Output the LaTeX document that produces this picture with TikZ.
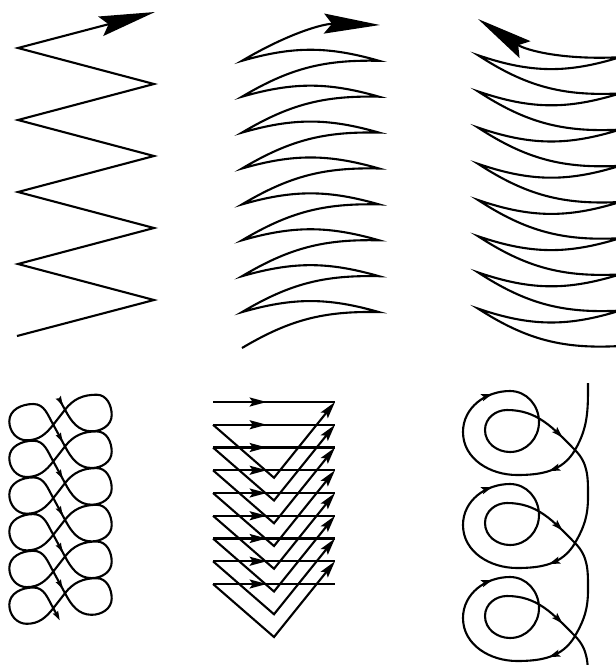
\documentclass[tikz,border=0pt]{standalone}
\usetikzlibrary{arrows.meta,decorations.markings}

\begin{document}
\begin{tikzpicture}[x=1pt,y=-1pt,
  line/.style={line width=2.1pt},
  bigtip/.style={-{Stealth[length=56pt,width=20pt,inset=8pt]}},
  smalltip/.style={-{Stealth[length=11pt,width=7pt,inset=2pt]}},
  slimtip/.style={-{Stealth[length=9pt,width=5.5pt,inset=1pt]}},
  midtip/.style={postaction={decorate,decoration={markings,
    mark=at position #1 with {\arrow{Stealth[length=17pt,width=9pt,inset=3pt]}}}}},
  veetip/.style={-{Stealth[length=17pt,width=9pt,inset=3pt]}}]
  \useasboundingbox (0,0) rectangle (616,665);
  \clip (0,0) rectangle (616,665);

  % zigzag
  \draw[line,bigtip] (17,336) \foreach \k in {1,...,4}{ -- (154,{336-72*\k+36}) -- (18,{336-72*\k}) } -- (155,12);

  % arcs, bent up
  \draw[line,bigtip] (242,348) \foreach \k in {1,...,8}{ to[bend left=16] (379,{348-35.9*\k}) to[bend right=16] (242,{348-35.9*\k}) } to[bend left=16] (380,25);

  % arcs, bent down
  \draw[line,bigtip] (620,346) \foreach \k in {8,...,1}{ to[bend left=18] (478,{19+36.2*\k}) to[bend right=18] (620,{21+36.2*\k}) } to[bend left=18] (478,19);

  % figure eights
  \draw[line,slimtip] (59.2,399.2)
    \foreach \k in {0,...,5}{
      -- (65,{409.7+36.7*\k})
      to[out=-62,in=180] (91.7,{431.3+36.7*\k})
      to[out=0,in=270] (111.7,{415+36.7*\k})
      to[out=90,in=0] (96.7,{394.7+36.7*\k})
      to[out=180,in=52] (65,{409.7+36.7*\k})
      -- (53.3,{424.7+36.7*\k})
      to[out=232,in=0] (26.7,{440.3+36.7*\k})
      to[out=180,in=270] (9.3,{421.3+36.7*\k})
      to[out=90,in=180] (33.3,{404+36.7*\k})
      to[out=0,in=120] (53.3,{424.7+36.7*\k})
    } -- (59.8,620.4);
  \foreach \k in {0,...,5}
    \draw[line,slimtip] (61.5,{403.2+36.7*\k}) -- (62.7,{405.4+36.7*\k});

  % triangles
  \foreach \k in {0,...,8}
    \draw[line,midtip=0.44] (213,{402+22.75*\k}) -- (335,{402+22.75*\k});
  \foreach \k in {1,...,8}
    \draw[line,veetip] (213,{402+22.75*\k}) -- (274,{455+22.75*\k}) -- (335,{402+22.75*(\k-1)});

  % loops
  \draw[line] (588,383) to[out=270,in=60] (575,450)
    \foreach \k in {0,1,2}{
      to[out=240,in=0] (517,{475+93*\k})
      to[out=180,in=270] (463,{432+93*\k})
      to[out=90,in=180] (510,{391+93*\k})
      to[out=0,in=90] (539,{422+93*\k})
      to[out=270,in=0] (510,{452+93*\k})
      to[out=180,in=270] (485,{430+93*\k})
      to[out=90,in=180] (507,{410+93*\k})
      to[out=0,in=135] (575,{450+93*\k})
      to[out=-45,in=90] (588,{497+93*\k})
      to[out=270,in=60] (575,{543+93*\k})
    };
  \foreach \k in {0,1,2}{
    \draw[line,smalltip] (552,{469.9+93*\k}) -- (549,{471+93*\k});
    \draw[line,smalltip] (489.6,{394.9+93*\k}) -- (492.4,{393.9+93*\k});
    \draw[line,smalltip] (560.4,{435.3+93*\k}) -- (562.5,{437.4+93*\k});
  }
\end{tikzpicture}
\end{document}
